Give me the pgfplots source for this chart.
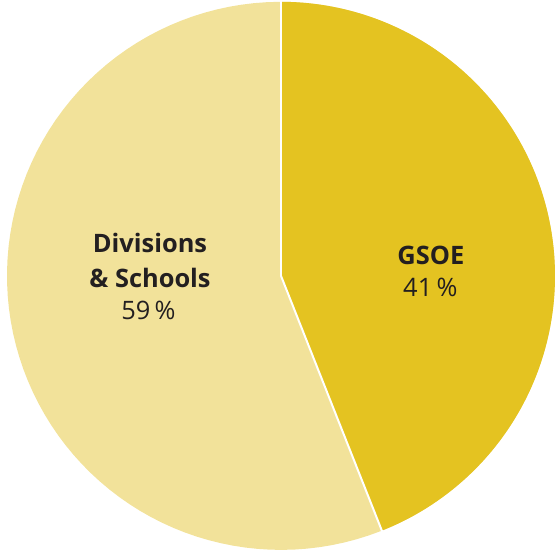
\documentclass[border=0pt]{standalone}
\usepackage{pgfplots}
\pgfplotsset{compat=1.18}
\usepackage{fontspec}
\setmainfont{Open Sans}
\definecolor{gsoe}{HTML}{E4C321}
\definecolor{divs}{HTML}{F2E29A}
\definecolor{txt}{HTML}{231F20}
% drawn shares (percent of the circle) and printed labels
\pgfmathsetmacro{\gsoeshare}{44.0}
\pgfmathsetmacro{\divshare}{56.0}
\pgfmathsetmacro{\bnd}{90-3.6*\gsoeshare}
\begin{document}
\begin{tikzpicture}
\begin{axis}[
  scale only axis, width=557bp, height=554bp,
  hide axis,
  xmin=-1.0255, xmax=1.0073, ymin=-1.018, ymax=1.0036,
  clip=false,
]
\path (rel axis cs:0,0) rectangle (rel axis cs:1,1);
\addplot[fill=divs, draw=none, domain=\bnd-360:90, samples=200, variable=\t]
  ({cos(t)},{sin(t)}) -- (axis cs:0,0) -- cycle;
\addplot[fill=gsoe, draw=none, domain=\bnd:90, samples=150, variable=\t]
  ({cos(t)},{sin(t)}) -- (axis cs:0,0) -- cycle;
\addplot[white, line width=2bp] coordinates {(0,0) (0,1.003)};
\addplot[white, line width=2bp] coordinates {(0,0) ({1.003*cos(\bnd)},{1.003*sin(\bnd)})};
\node[txt, font=\fontsize{25.5}{35}\selectfont\bfseries, align=center] at (axis cs:-0.478,0.056) {Divisions\\\& Schools};
\node[txt, font=\fontsize{25.5}{35}\selectfont] at (axis cs:-0.484,-0.126) {59\,\%};
\node[txt, font=\fontsize{25.5}{35}\selectfont\bfseries] at (axis cs:0.547,0.073) {GSOE};
\node[txt, font=\fontsize{25.5}{35}\selectfont] at (axis cs:0.545,-0.044) {41\,\%};
\end{axis}
\end{tikzpicture}
\end{document}
